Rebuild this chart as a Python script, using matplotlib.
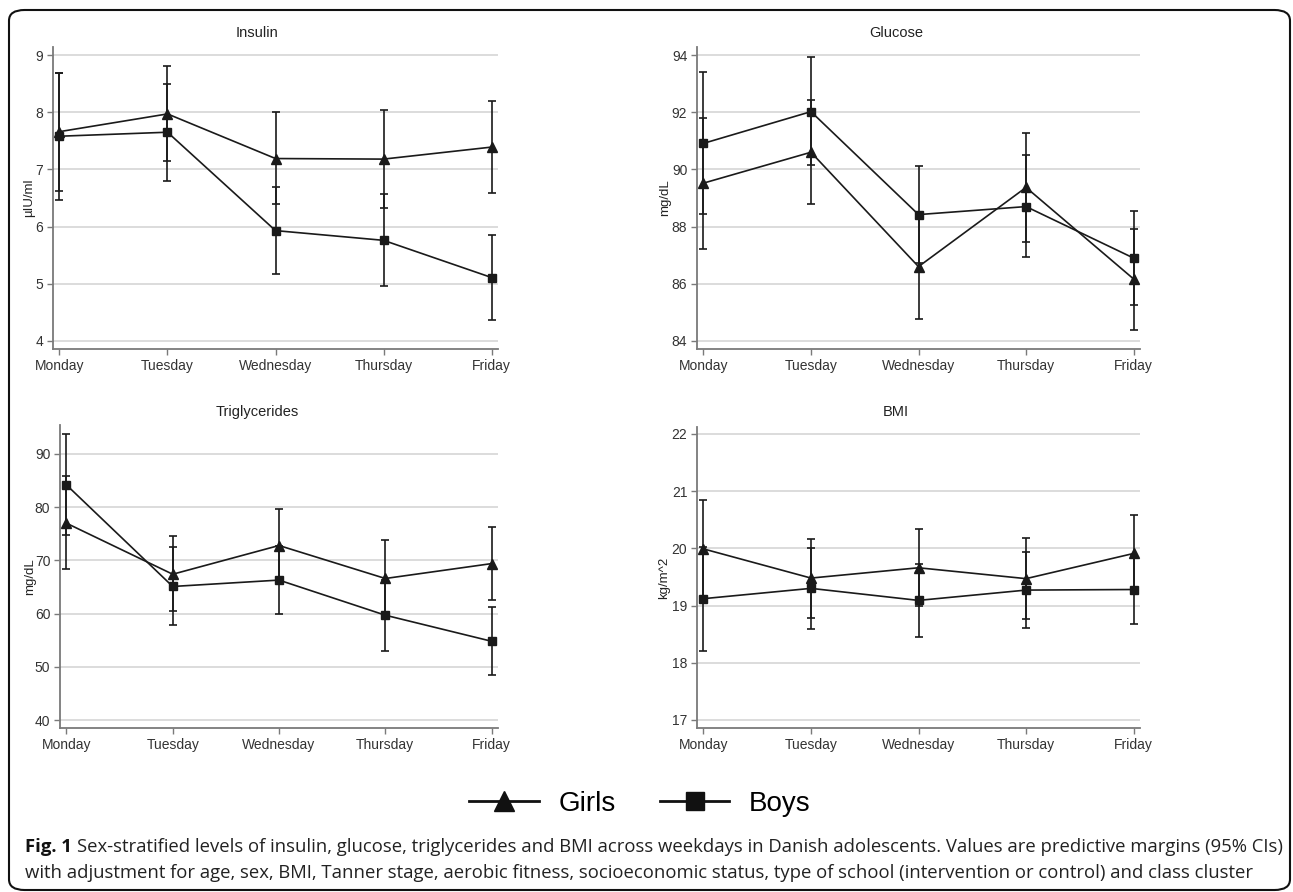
import matplotlib
matplotlib.use("Agg")
import matplotlib.pyplot as plt
from matplotlib.lines import Line2D
from matplotlib.patches import FancyBboxPatch

plt.rcParams['font.family'] = ['Liberation Sans', 'DejaVu Sans']

days = ["Monday", "Tuesday", "Wednesday", "Thursday", "Friday"]

# predictive margins with 95% CI (lower, upper)
insulin_girls = [7.66, 7.97, 7.19, 7.18, 7.39]
insulin_girls_lo = [6.63, 7.14, 6.39, 6.32, 6.58]
insulin_girls_hi = [8.69, 8.80, 8.00, 8.03, 8.19]
insulin_boys = [7.58, 7.65, 5.93, 5.76, 5.11]
insulin_boys_lo = [6.47, 6.79, 5.17, 4.97, 4.37]
insulin_boys_hi = [8.69, 8.50, 6.70, 6.57, 5.86]

glucose_girls = [89.52, 90.60, 86.60, 89.37, 86.17]
glucose_girls_lo = [87.22, 88.78, 84.77, 87.47, 84.38]
glucose_girls_hi = [91.81, 92.44, 88.43, 91.26, 87.93]
glucose_boys = [90.91, 92.02, 88.42, 88.70, 86.90]
glucose_boys_lo = [88.45, 90.14, 86.72, 86.93, 85.27]
glucose_boys_hi = [93.40, 93.92, 90.13, 90.49, 88.55]

trig_girls = [77.0, 67.4, 72.8, 66.6, 69.4]
trig_girls_lo = [68.3, 60.4, 65.9, 59.3, 62.6]
trig_girls_hi = [85.9, 74.5, 79.7, 73.9, 76.3]
trig_boys = [84.2, 65.1, 66.3, 59.7, 54.8]
trig_boys_lo = [74.7, 57.8, 59.9, 53.0, 48.5]
trig_boys_hi = [93.8, 72.5, 72.7, 66.4, 61.2]

bmi_girls = [19.99, 19.48, 19.66, 19.47, 19.91]
bmi_girls_lo = [19.13, 18.79, 19.00, 18.77, 19.24]
bmi_girls_hi = [20.85, 20.17, 20.33, 20.18, 20.58]
bmi_boys = [19.12, 19.30, 19.09, 19.27, 19.28]
bmi_boys_lo = [18.21, 18.59, 18.45, 18.61, 18.67]
bmi_boys_hi = [20.03, 20.01, 19.73, 19.94, 19.89]

W, H = 1293, 892
fig = plt.figure(figsize=(W / 100, H / 100), dpi=100)

def px_axes(x0, y0, x1, y1):
    return fig.add_axes([x0 / W, 1 - y1 / H, (x1 - x0) / W, (y1 - y0) / H])

panels = [
    ("Insulin", "µIU/ml", (53, 47, 498, 349), (3.86, 9.14), [4, 5, 6, 7, 8, 9],
     insulin_girls, insulin_girls_lo, insulin_girls_hi,
     insulin_boys, insulin_boys_lo, insulin_boys_hi, 257, 33, 29),
    ("Glucose", "mg/dL", (697, 47, 1140, 349), (83.72, 94.28), [84, 86, 88, 90, 92, 94],
     glucose_girls, glucose_girls_lo, glucose_girls_hi,
     glucose_boys, glucose_boys_lo, glucose_boys_hi, 896, 33, 665),
    ("Triglycerides", "mg/dL", (60, 425, 498, 728), (38.5, 95.45), [40, 50, 60, 70, 80, 90],
     trig_girls, trig_girls_lo, trig_girls_hi,
     trig_boys, trig_boys_lo, trig_boys_hi, 257, 412, 30),
    ("BMI", "kg/m^2", (697, 427, 1140, 728), (16.86, 22.12), [17, 18, 19, 20, 21, 22],
     bmi_girls, bmi_girls_lo, bmi_girls_hi,
     bmi_boys, bmi_boys_lo, bmi_boys_hi, 896, 412, 664),
]

x = list(range(len(days)))
spine_col = '#7a7a7a'

for (title, ylab, box, ylim, yticks, g, glo, ghi, b, blo, bhi, tx, ty, lx) in panels:
    ax = px_axes(*box)
    ax.set_ylim(*ylim)
    ax.set_xlim(-0.06, 4.06)
    ax.set_yticks(yticks)
    ax.set_xticks(x)
    ax.set_xticklabels(days)
    ax.grid(axis='y', color='#dcdcdc', linewidth=1.4)
    ax.set_axisbelow(True)
    for s in ['top', 'right']:
        ax.spines[s].set_visible(False)
    for s in ['left', 'bottom']:
        ax.spines[s].set_color(spine_col)
        ax.spines[s].set_linewidth(1.3)
    ax.tick_params(colors=spine_col, labelcolor='#333333', labelsize=10,
                   length=4, width=1.0, pad=3)

    gerr = [[gi - l for gi, l in zip(g, glo)], [h - gi for gi, h in zip(g, ghi)]]
    berr = [[bi - l for bi, l in zip(b, blo)], [h - bi for bi, h in zip(b, bhi)]]
    ax.errorbar(x, g, yerr=gerr, color='#1a1a1a', marker='^', markersize=6.5,
                linewidth=1.2, elinewidth=1.2, capsize=3, capthick=1.2, zorder=3)
    ax.errorbar(x, b, yerr=berr, color='#1a1a1a', marker='s', markersize=6,
                linewidth=1.2, elinewidth=1.2, capsize=3, capthick=1.2, zorder=3)

    fig.text(tx / W, 1 - ty / H, title, ha='center', va='center', fontsize=10.5, color='#222222')
    fig.text(lx / W, 1 - ((box[1] + box[3]) / 2) / H, ylab, rotation=90,
             ha='center', va='center', fontsize=9.5, color='#222222')

# legend
handles = [Line2D([], [], color='#111111', marker='^', markersize=14, linewidth=2.0),
           Line2D([], [], color='#111111', marker='s', markersize=13, linewidth=2.0)]
fig.legend(handles, ["Girls", "Boys"], loc='center', bbox_to_anchor=(640 / W, 1 - 804 / H),
           ncol=2, frameon=False, fontsize=20, handlelength=2.5, columnspacing=1.6,
           handletextpad=0.7, borderpad=0, borderaxespad=0)

# outer border
fig.patches.append(FancyBboxPatch((9 / W, 2 / H), 1281 / W, 880 / H,
                                  boxstyle="round,pad=0,rounding_size=0.012",
                                  transform=fig.transFigure, fill=False,
                                  edgecolor='#111111', linewidth=1.5))

# caption
cap1 = ("Sex-stratified levels of insulin, glucose, triglycerides and BMI across weekdays in "
        "Danish adolescents. Values are predictive margins (95% CIs)")
cap2 = ("with adjustment for age, sex, BMI, Tanner stage, aerobic fitness, socioeconomic status, "
        "type of school (intervention or control) and class cluster")
cap_font = ['Open Sans', 'DejaVu Sans']
t0 = fig.text(25 / W, 1 - 847 / H, "Fig. 1", fontsize=13.3, fontweight='bold',
              family=cap_font, va='center', color='#111111')
r = fig.canvas.get_renderer()
bb = t0.get_window_extent(renderer=r)
fig.text((bb.x1 + 5) / W, 1 - 847 / H, cap1, fontsize=13.3,
         family=cap_font, va='center', color='#222222')
fig.text(25 / W, 1 - 873 / H, cap2, fontsize=13.3,
         family=cap_font, va='center', color='#222222')

fig.savefig("out.png", dpi=100)
